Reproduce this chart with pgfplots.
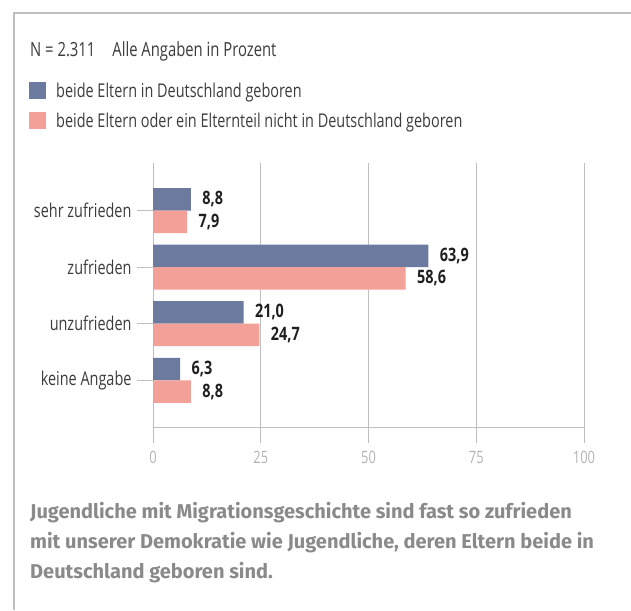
\documentclass[border=0pt]{standalone}
\usepackage{fontspec}
\setmainfont{Open Sans}[FakeStretch=0.76]
\newfontfamily\valfont{Open Sans}[FakeStretch=0.78]
\newfontfamily\capfont{Fira Sans}
\usepackage{pgfplots}
\pgfplotsset{compat=1.18}

\definecolor{blau}{HTML}{6B7A9E}
\definecolor{rosa}{HTML}{F2A098}
\definecolor{gitter}{HTML}{BFBFBF}
\definecolor{tickgrau}{HTML}{B3B3B3}
\definecolor{textgrau}{HTML}{3C3C3C}
\definecolor{capgrau}{HTML}{8A8A8A}

\begin{document}
\begin{tikzpicture}
\path[use as bounding box] (0pt,0pt) rectangle (631pt,-610pt);
\draw[gitter, line width=1.1pt] (14pt,-610pt) -- (14pt,-13pt) -- (631pt,-13pt);
\node[anchor=west, inner sep=0pt, text=textgrau, font=\fontsize{19.5}{22}\selectfont]
  at (30pt,-51pt) {N = 2.311\hspace{17pt}Alle Angaben in Prozent};

\begin{axis}[
  at={(153pt,-427pt)}, anchor=south west,
  scale only axis, width=431pt, height=264pt,
  xmin=0, xmax=100, ymin=-0.825, ymax=3.84,
  xtick={0,25,50,75,100},
  ytick={0,1,2,3},
  yticklabels={keine Angabe, unzufrieden, zufrieden, sehr zufrieden},
  axis x line*=bottom, axis y line*=left,
  axis line style={gitter, line width=1pt},
  xmajorgrids, major grid style={gitter, line width=1pt},
  tick align=outside, major tick length=16pt,
  tick style={gitter, line width=1pt},
  xticklabel style={text=tickgrau, font=\fontsize{17}{19}\selectfont, yshift=-5pt},
  yticklabel style={text=textgrau, font=\fontsize{19}{22}\selectfont, xshift=-2pt},
  /pgf/number format/assume math mode=true,
  xbar, bar width=22.5pt,
  nodes near coords,
  every node near coord/.append style={font=\valfont\bfseries\fontsize{18.5}{20}\selectfont,
    text=black!88, xshift=8pt,
    /pgf/number format/.cd, use comma, fixed, fixed zerofill, precision=1},
  legend style={draw=none, fill=none, inner sep=0pt,
    at={(-0.2877,1.306)}, anchor=north west,
    font=\fontsize{19}{22}\selectfont, text=textgrau, row sep=13pt,
    nodes={inner sep=0pt}},
  legend cell align=left,
  legend image code/.code={\fill[#1] (0pt,-8pt) rectangle (17pt,9pt);
    \path (27pt,0pt);},
]
\addplot[fill=blau, draw=none, bar shift=11.25pt] coordinates {
  (8.8,3) (63.9,2) (21.0,1) (6.3,0)};
\addlegendentry{beide Eltern in Deutschland geboren}
\addplot[fill=rosa, draw=none, bar shift=-11.25pt] coordinates {
  (7.9,3) (58.6,2) (24.7,1) (8.8,0)};
\addlegendentry{beide Eltern oder ein Elternteil nicht in Deutschland geboren}
\end{axis}

\node[anchor=north west, inner sep=0pt, align=left, text=capgrau,
  font=\capfont\bfseries\fontsize{20}{30}\selectfont] at (30pt,-502pt)
  {Jugendliche mit Migrationsgeschichte sind fast so zufrieden\\
   mit unserer Demokratie wie Jugendliche, deren Eltern beide in\\
   Deutschland geboren sind.};
\end{tikzpicture}
\end{document}
